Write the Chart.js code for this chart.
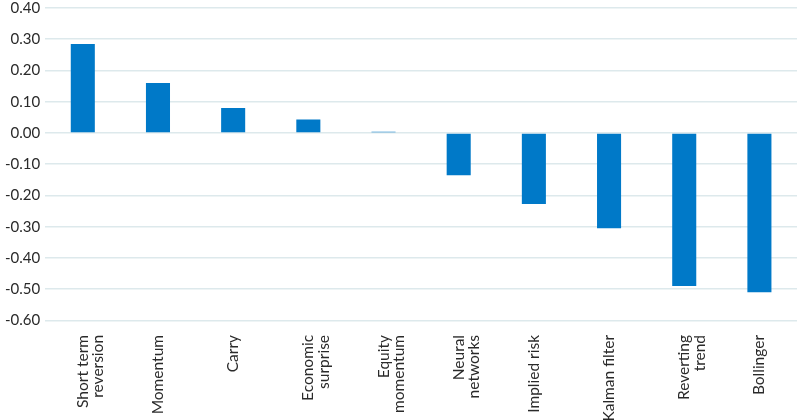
<!DOCTYPE html>
<html>
<head>
<meta charset="utf-8">
<script src="https://cdn.jsdelivr.net/npm/chart.js@4"></script>
<style>
  body { margin: 0; background: #fff; }
  #wrap { width: 799px; height: 420px; }
</style>
</head>
<body>
<div id="wrap"><canvas id="factorChart" width="799" height="420"></canvas></div>
<script>
let categories = [
    ["Short term", "reversion"],
    "Momentum",
    "Carry",
    ["Economic", "surprise"],
    ["Equity", "momentum"],
    ["Neural", "networks"],
    "Implied risk",
    "Kalman filter",
    ["Reverting", "trend"],
    "Bollinger"
];
let values = [0.285, 0.16, 0.08, 0.043, 0.004, -0.135, -0.227, -0.305, -0.49, -0.51];
let yMin = -0.6;
let yMax = 0.4;
let yStep = 0.1;

let ctx = document.getElementById("factorChart").getContext("2d");

new Chart(ctx, {
    type: "bar",
    data: {
        labels: categories,
        datasets: [
            {
                data: values,
                backgroundColor: "#0079c8",
                borderWidth: 0,
                categoryPercentage: 1,
                barPercentage: 0.32,
                minBarLength: 1
            }
        ]
    },
    options: {
        responsive: false,
        animation: false,
        layout: { padding: { top: 8, right: 2, left: 0, bottom: -8 } },
        plugins: {
            legend: { display: false },
            tooltip: { enabled: false }
        },
        scales: {
            x: {
                grid: { display: false },
                border: { display: false },
                ticks: {
                    minRotation: 90,
                    maxRotation: 90,
                    autoSkip: false,
                    padding: 6.5,
                    color: "#2a2a2a",
                    font: { family: "Lato", size: 15.5, lineHeight: 1.0 }
                }
            },
            y: {
                min: yMin,
                max: yMax,
                border: { display: false },
                grid: { color: "#dde9ec", lineWidth: 1.5, drawTicks: false },
                afterFit: function (scale) {
                    scale.paddingTop = 0;
                },
                ticks: {
                    stepSize: yStep,
                    padding: 5,
                    color: "#2a2a2a",
                    font: { family: "Lato", size: 15 },
                    callback: function (v) { return Number(v).toFixed(2); }
                }
            }
        }
    }
});
</script>
</body>
</html>
